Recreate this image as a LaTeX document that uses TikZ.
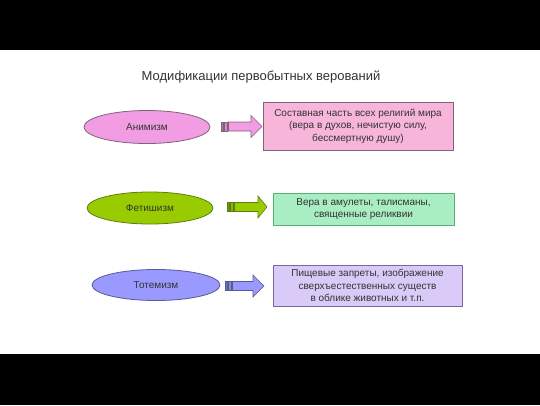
\documentclass[tikz,border=0pt]{standalone}
\usepackage{fontspec}
\setmainfont{Liberation Sans}
\usetikzlibrary{shapes.geometric}
\definecolor{txt}{HTML}{333333}
\definecolor{pinkE}{HTML}{F29CE3}
\definecolor{pinkB}{HTML}{F7B5D9}
\definecolor{pinkD}{HTML}{7E6478}
\definecolor{greenE}{HTML}{99CC00}
\definecolor{greenD}{HTML}{5E7F10}
\definecolor{mintB}{HTML}{A9EDC2}
\definecolor{mintD}{HTML}{5DAF78}
\definecolor{blueE}{HTML}{9999FF}
\definecolor{blueD}{HTML}{5A5A8E}
\definecolor{lavB}{HTML}{DACAF7}
\definecolor{lavD}{HTML}{76689A}
\tikzset{
  kind/.style={ellipse, draw=#1, line width=0.8pt, text=txt, font=\fontsize{10}{12}\selectfont, inner sep=0pt},
  descbox/.style={rectangle, draw=#1, line width=0.8pt, text=txt, align=center, font=\fontsize{10}{12.5}\selectfont, inner sep=0pt},
  pics/stripedarrow/.style args={#1/#2/#3/#4}{code={
    % #1 fill, #2 border, #3 length, #4 head start
    \filldraw[fill=#1!75!black, draw=#2, line width=0.5pt] (0,-4.5) rectangle (2.5,4.5);
    \filldraw[fill=#1!88!black, draw=#2, line width=0.5pt] (3.5,-4.5) rectangle (6.5,4.5);
    \filldraw[fill=#1, draw=#2, line width=0.6pt] (7.5,-4.5) -- (#4,-4.5) -- (#4,-11) -- (#3,0) -- (#4,11) -- (#4,4.5) -- (7.5,4.5) -- cycle;
  }}
}
\begin{document}
\begin{tikzpicture}[x=1pt,y=-1pt]
\useasboundingbox (0,0) rectangle (540,405);
\fill[white] (0,0) rectangle (540,405);
\fill[black] (0,0) rectangle (540,50);
\fill[black] (0,354) rectangle (540,405);

\node[text=txt, font=\fontsize{13}{15}\selectfont] (title) at (261,77) {Модификации первобытных верований};

\node[kind=pinkD, fill=pinkE, minimum width=126pt, minimum height=33pt] (anim) at (147,127) {Анимизм};
\node[kind=greenD, fill=greenE, minimum width=126pt, minimum height=32pt] (fet) at (150,208) {Фетишизм};
\node[kind=blueD, fill=blueE, minimum width=128pt, minimum height=31pt] (tot) at (156,285) {Тотемизм};

\node[descbox=pinkD, fill=pinkB, minimum width=190pt, minimum height=48pt] (b1) at (358,126)
  {Составная часть всех религий мира\\(вера в духов, нечистую силу,\\бессмертную душу)};
\node[descbox=mintD, fill=mintB, minimum width=181pt, minimum height=32pt] (b2) at (363.5,209)
  {Вера в амулеты, талисманы,\\священные реликвии};
\node[descbox=lavD, fill=lavB, minimum width=189pt, minimum height=41pt] (b3) at (367.5,285.5)
  {Пищевые запреты, изображение\\сверхъестественных существ\\в облике животных и т.п.};

\pic (a1) at (221,126.5) {stripedarrow={pinkE/pinkD/41/30}};
\pic (a2) at (227,207) {stripedarrow={greenE/greenD/40/31}};
\pic (a3) at (225,286) {stripedarrow={blueE/blueD/39/28}};
\end{tikzpicture}
\end{document}
